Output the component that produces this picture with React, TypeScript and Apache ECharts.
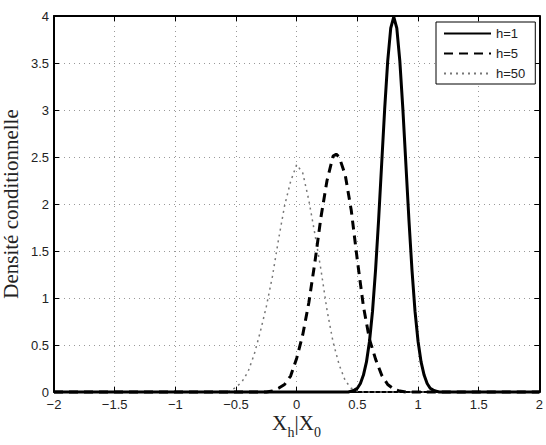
import React, { useEffect, useRef } from "react";
import * as echarts from "echarts";

// h=1
const xH1 = [-2, 0.425, 0.45, 0.475, 0.5, 0.525, 0.55, 0.575, 0.6, 0.625, 0.65, 0.675, 0.7, 0.725, 0.75, 0.775, 0.8, 0.825, 0.85, 0.875, 0.9, 0.925, 0.95, 0.975, 1.0, 1.025, 1.05, 1.075, 1.1, 1.125, 1.15, 1.175, 2];
const yH1 = [0, 0, 0.01, 0.02, 0.04, 0.09, 0.18, 0.32, 0.54, 0.86, 1.3, 1.83, 2.42, 3.01, 3.52, 3.87, 3.99, 3.87, 3.52, 3.01, 2.42, 1.83, 1.3, 0.86, 0.54, 0.32, 0.18, 0.09, 0.04, 0.02, 0.01, 0, 0];
// h=5
const xH5 = [-2, -0.25, -0.2, -0.15, -0.1, -0.05, 0, 0.05, 0.1, 0.15, 0.2, 0.25, 0.3, 0.325, 0.35, 0.4, 0.45, 0.5, 0.55, 0.6, 0.65, 0.7, 0.75, 0.8, 0.85, 0.9, 2];
const yH5 = [0, 0, 0.01, 0.04, 0.08, 0.17, 0.36, 0.61, 0.95, 1.38, 1.86, 2.25, 2.51, 2.53, 2.5, 2.31, 1.93, 1.4, 0.91, 0.56, 0.35, 0.18, 0.08, 0.03, 0.01, 0, 0];
// h=50
const xH50 = [-2, -0.6, -0.55, -0.5, -0.45, -0.4, -0.35, -0.3, -0.25, -0.2, -0.15, -0.1, -0.05, 0, 0.05, 0.1, 0.15, 0.2, 0.25, 0.3, 0.35, 0.4, 0.45, 0.5, 0.55, 2];
const yH50 = [0, 0, 0.01, 0.05, 0.11, 0.22, 0.4, 0.64, 0.91, 1.23, 1.62, 1.98, 2.24, 2.42, 2.33, 2.04, 1.68, 1.3, 0.87, 0.53, 0.29, 0.12, 0.04, 0.01, 0, 0];

const seriesNames = ["h=1", "h=5", "h=50"];
const xTicks = { min: -2, max: 2, interval: 0.5 };
const yTicks = { min: 0, max: 4, interval: 0.5 };

const pairs = (xs: number[], ys: number[]) => xs.map((x, i) => [x, ys[i]]);

const GL = 54, GT = 16, GW = 486, GH = 376;
const sans = "'Liberation Sans', Arial, sans-serif";
const serif = "'Liberation Serif', 'Times New Roman', serif";
const gridLine = { show: true, lineStyle: { color: "#999", width: 1, type: [1, 4] as any } };

export default function App() {
  const ref = useRef<HTMLDivElement>(null);
  useEffect(() => {
    const chart = echarts.init(ref.current!, null, { renderer: "svg" });
    const fmt = (v: number) => String(v).replace("-", "\u2212");
    const tick = { show: true, inside: true, length: 5, lineStyle: { color: "#000" } };
    const line = { show: true, onZero: false, lineStyle: { color: "#000", width: 2 } };
    chart.setOption({
      animation: false,
      backgroundColor: "#fff",
      grid: { left: GL, top: GT, width: GW, height: GH },
      xAxis: [
        {
          type: "value", ...xTicks, position: "bottom", axisLine: line, axisTick: tick,
          axisLabel: { formatter: fmt, color: "#222", fontSize: 13, fontFamily: sans, margin: 6 },
          splitLine: gridLine,
        },
        {
          type: "value", ...xTicks, position: "top", axisLine: line, axisTick: tick,
          axisLabel: { show: false }, splitLine: { show: false },
        },
      ],
      yAxis: [
        {
          type: "value", ...yTicks, position: "left", axisLine: line, axisTick: tick,
          axisLabel: { color: "#222", fontSize: 13, fontFamily: sans, margin: 5 },
          splitLine: gridLine,
        },
        {
          type: "value", ...yTicks, position: "right", axisLine: line, axisTick: tick,
          axisLabel: { show: false }, splitLine: { show: false },
        },
      ],
      legend: {
        orient: "vertical",
        left: 436,
        top: 22,
        padding: [5, 10, 4, 7],
        itemWidth: 47,
        itemHeight: 14,
        itemGap: 7,
        backgroundColor: "#fff",
        borderColor: "#000",
        borderWidth: 1,
        itemStyle: { opacity: 0 },
        textStyle: { color: "#222", fontSize: 13, fontFamily: sans },
        data: seriesNames,
      },
      series: [
        {
          name: seriesNames[2], type: "line", data: pairs(xH50, yH50), symbol: "none", clip: false,
          lineStyle: { color: "#777", width: 1.5, type: [2, 4] },
          itemStyle: { color: "#777" },
        },
        {
          name: seriesNames[1], type: "line", data: pairs(xH5, yH5), symbol: "none", clip: false,
          lineStyle: { color: "#000", width: 3, type: [9, 6] },
          itemStyle: { color: "#000" },
        },
        {
          name: seriesNames[0], type: "line", data: pairs(xH1, yH1), symbol: "none", clip: false,
          lineStyle: { color: "#000", width: 3, type: "solid" },
          itemStyle: { color: "#000" },
        },
      ],
      graphic: [
        {
          type: "text", x: 11, y: GT + GH / 2, rotation: Math.PI / 2,
          style: { text: "Densité conditionnelle", fontFamily: serif, fontSize: 21, fill: "#222", align: "center", verticalAlign: "middle" },
        },
        { type: "text", x: 272, y: 423, style: { text: "X", fontFamily: serif, fontSize: 21, lineHeight: 16, fill: "#222", align: "left", verticalAlign: "middle" } },
        { type: "text", x: 287.5, y: 432, style: { text: "h", fontFamily: serif, fontSize: 14, lineHeight: 11, fill: "#222", align: "left", verticalAlign: "middle" } },
        { type: "text", x: 294.5, y: 423, style: { text: "|X", fontFamily: serif, fontSize: 21, lineHeight: 16, fill: "#222", align: "left", verticalAlign: "middle" } },
        { type: "text", x: 314, y: 432, style: { text: "0", fontFamily: serif, fontSize: 14, lineHeight: 11, fill: "#222", align: "left", verticalAlign: "middle" } },
      ],
    });
    return () => chart.dispose();
  }, []);
  return <div ref={ref} style={{ position: "fixed", left: 0, top: 0, width: 546, height: 445 }} />;
}
